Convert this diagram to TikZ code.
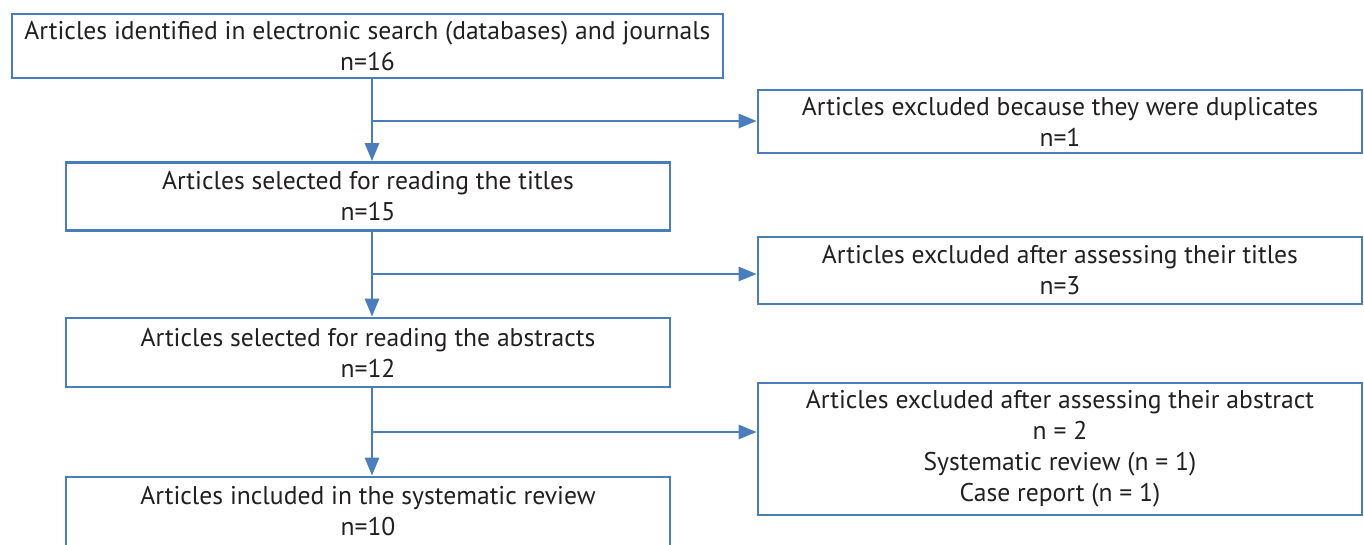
\documentclass[tikz,border=0pt]{standalone}
\usepackage{fontspec}
\setmainfont{PT Sans}
\usepackage{tikz}
\usetikzlibrary{positioning}
\usetikzlibrary{calc,arrows.meta}
\definecolor{flowblue}{RGB}{74,126,187}
\definecolor{flowtext}{RGB}{35,31,32}

\begin{document}
\begin{tikzpicture}[x=0.75pt,y=-0.75pt,
  box/.style={shape=rectangle,draw=flowblue,line width=2pt,align=center,
    text=flowtext,font=\fontsize{19.2}{23.25}\selectfont,inner sep=0pt},
  arr/.style={draw=flowblue,line width=2pt,-{Triangle[length=13.5pt,width=10.5pt]}}]
\useasboundingbox (0,0) rectangle (1364,544);
\path
(367.5,46) node [box,minimum width=711*0.75pt,minimum height=64*0.75pt](idb) {Articles identified in electronic search (databases) and journals\\n=16}
(368,196.5) node [box,minimum width=604*0.75pt,minimum height=68*0.75pt](ttl) {Articles selected for reading the titles\\n=15}
(368,352.5) node [box,minimum width=604*0.75pt,minimum height=69*0.75pt](abs) {Articles selected for reading the abstracts\\n=12}
(368,511.5) node [box,minimum width=604*0.75pt,minimum height=69*0.75pt](inc) {Articles included in the systematic review\\n=10}
(1060,121.5) node [box,minimum width=604*0.75pt,minimum height=63*0.75pt](dup) {Articles excluded because they were duplicates\\n=1}
(1060,270.5) node [box,minimum width=604*0.75pt,minimum height=67*0.75pt](xti) {Articles excluded after assessing their titles\\n=3}
(1060,449) node [box,minimum width=604*0.75pt,minimum height=132*0.75pt](xab) {Articles excluded after assessing their abstract\\n = 2\\Systematic review (n = 1)\\Case report (n = 1)};
\coordinate (br1) at (372,121);
\coordinate (br2) at (372,274);
\coordinate (br3) at (372,432);
% main flow
\draw [arr](idb.south -| br1) --(ttl.north -| br1);
\draw [arr](ttl.south -| br2) --(abs.north -| br2);
\draw [arr](abs.south -| br3) --(inc.north -| br3);
% exclusions
\draw [arr](br1) --(br1 -| dup.west);
\draw [arr](br2) --(br2 -| xti.west);
\draw [arr](br3) --(br3 -| xab.west);

\end{tikzpicture}
\end{document}
